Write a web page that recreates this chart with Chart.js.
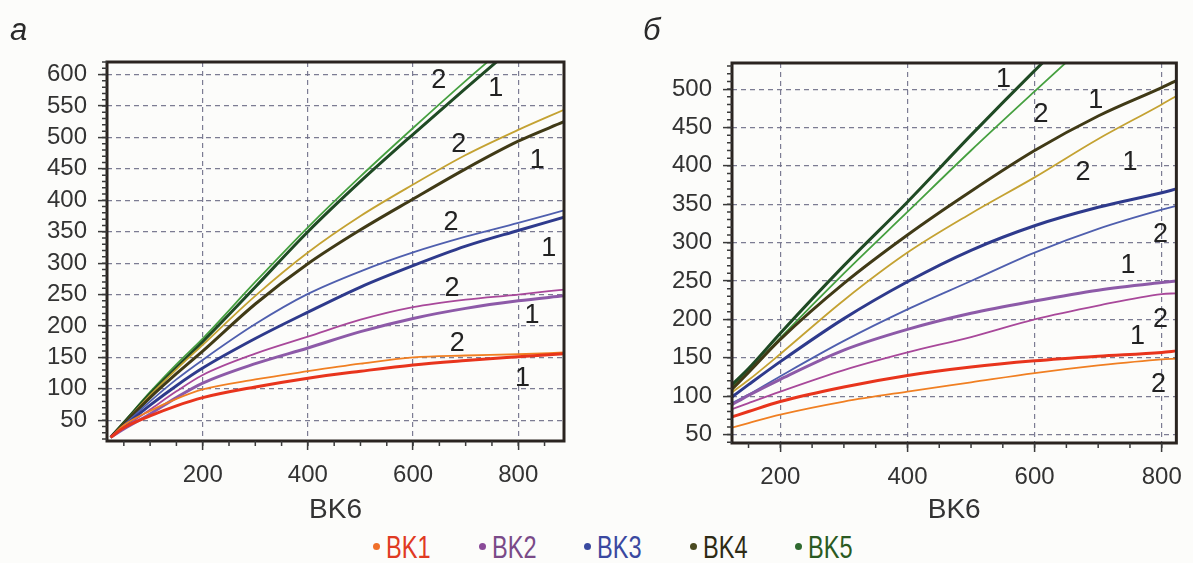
<!DOCTYPE html>
<html>
<head>
<meta charset="utf-8">
<script src="https://cdn.jsdelivr.net/npm/chart.js@4.4.1/dist/chart.umd.min.js"></script>
<style>
  body { margin: 0; background: #fcfcfa; width: 1193px; height: 563px; overflow: hidden; position: relative;
         font-family: 'Liberation Sans', Arial, sans-serif; }
  canvas { position: absolute; top: 0; }
  #chartA { left: 0; }
  #chartB { left: 600px; }
  #legend { position: absolute; top: 531px; left: 373px; display: flex; font-size: 31px; line-height: 34px; }
  #legend span { width: 105.5px; white-space: nowrap; }
  #legend b { display: inline-block; font-weight: normal; transform: scaleX(0.76); transform-origin: left center; }
  #legend i { display: inline-block; width: 7px; height: 7px; border-radius: 50%; margin-right: 6px; vertical-align: middle; position: relative; top: -3px; }
</style>
</head>
<body>
<canvas id="chartA" width="600" height="530"></canvas>
<canvas id="chartB" width="593" height="530"></canvas>
<div id="legend"></div>
<script>
// ---- данные ----
// панель а
const X_A = [25, 50, 100, 150, 200, 300, 400, 500, 600, 700, 800, 887];
const A_BK1_1 = [23, 38, 57, 73, 86, 103, 117, 128, 138, 145, 151, 156];
const A_BK1_2 = [23, 42, 65, 84, 99, 115, 128, 140, 150, 153, 155, 158];
const A_BK2_1 = [23, 36, 60, 86, 109, 140, 165, 191, 212, 228, 240, 248];
const A_BK2_2 = [23, 38, 67, 96, 122, 156, 183, 210, 230, 242, 250, 258];
const A_BK3_1 = [23, 40, 74, 105, 133, 180, 222, 262, 296, 327, 352, 373];
const A_BK3_2 = [23, 42, 80, 115, 146, 203, 251, 287, 317, 342, 364, 384];
const A_BK4_1 = [23, 44, 86, 124, 160, 235, 299, 353, 402, 450, 494, 525];
const A_BK4_2 = [23, 45, 90, 131, 170, 248, 317, 375, 425, 472, 512, 544];
const A_BK5_1 = [23, 46, 92, 134, 175, 262, 350, 430, 505, 578, 650, null];
const A_BK5_2 = [23, 47, 95, 139, 180, 270, 357, 438, 515, 590, 662, null];

// панель б
const X_B = [124, 150, 200, 300, 400, 500, 600, 700, 800, 823];
const B_BK1_1 = [73, 80, 93, 112, 127, 138, 146, 152, 157, 159];
const B_BK1_2 = [59, 65, 76, 93, 106, 118, 130, 140, 148, 149];
const B_BK2_1 = [89, 101, 122, 160, 187, 208, 224, 238, 248, 250];
const B_BK2_2 = [83, 91, 106, 134, 157, 177, 200, 218, 233, 234];
const B_BK3_1 = [99, 115, 145, 201, 249, 290, 322, 346, 365, 370];
const B_BK3_2 = [91, 102, 126, 172, 213, 250, 287, 318, 343, 348];
const B_BK4_1 = [109, 131, 174, 247, 310, 367, 420, 465, 502, 511];
const B_BK4_2 = [105, 121, 155, 225, 287, 338, 385, 435, 480, 491];
const B_BK5_1 = [115, 136, 182, 270, 353, 440, 524, 605, null, null];
const B_BK5_2 = [112, 132, 176, 260, 340, 420, 497, 573, null, null];

// подписи кривых "1" / "2" (в координатах данных)
const LBL_A_X = [808, 684, 826, 674, 858, 672, 836, 687, 757, 649];
const LBL_A_Y = [117, 172, 217, 259, 323, 364, 464, 488, 577, 590];
const LBL_B_X = [762, 795, 747, 798, 750, 798, 696, 676, 551, 610];
const LBL_B_Y = [178, 115, 270, 200, 404, 311, 485, 391, 513, 467];
const LBL_T = ['1', '2', '1', '2', '1', '2', '1', '2', '1', '2'];

const SERIES = ['BK1', 'BK2', 'BK3', 'BK4', 'BK5'];
const X_TICKS = [200, 400, 600, 800];

// ---- оформление ----
const COLOR_1 = ['#e8341c', '#8d5aa8', '#2e3a8c', '#403a16', '#1f4a24'];
const COLOR_2 = ['#f07f22', '#a8489a', '#4f5fae', '#c4a232', '#46a040'];
const LEGEND_DOT = ['#f0702a', '#8a4a98', '#3a4aa0', '#4a4a20', '#2f6a2f'];
const LEGEND_TEXT = ['#e03a22', '#7a4a88', '#3a48a0', '#2e2a14', '#2a5a22'];
const FONT = "'Liberation Sans', Arial, sans-serif";
const INK = '#333';

const framePlugin = {
    id: 'frame',
    afterDraw(chart) {
        const { ctx, chartArea: a } = chart;
        ctx.save();
        ctx.strokeStyle = '#2a2420';
        ctx.lineWidth = 3;
        ctx.strokeRect(a.left, a.top, a.right - a.left, a.bottom - a.top);
        ctx.restore();
    }
};

// мелкие засечки на осях
const minorTicks = {
    id: 'minorTicks',
    afterDraw(chart) {
        const { ctx } = chart;
        const xs = chart.scales.x, ys = chart.scales.y;
        ctx.save();
        ctx.strokeStyle = '#3a3a3a';
        ctx.lineWidth = 1.5;
        ctx.beginPath();
        for (let v = Math.ceil(ys.min / 10) * 10; v <= ys.max; v += 10) {
            const p = ys.getPixelForValue(v);
            ctx.moveTo(ys.right - 5, p); ctx.lineTo(ys.right, p);
        }
        for (let v = Math.ceil(xs.min / 50) * 50; v <= xs.max; v += 50) {
            const p = xs.getPixelForValue(v);
            ctx.moveTo(p, xs.top); ctx.lineTo(p, xs.top + 5);
        }
        ctx.stroke();
        ctx.restore();
    }
};

const curveLabels = {
    id: 'curveLabels',
    afterDatasetsDraw(chart, args, opts) {
        const { ctx } = chart;
        ctx.save();
        ctx.font = `27px ${FONT}`;
        ctx.fillStyle = '#222';
        ctx.textAlign = 'center';
        ctx.textBaseline = 'middle';
        opts.xs.forEach((x, i) => {
            ctx.fillText(opts.texts[i], chart.scales.x.getPixelForValue(x), chart.scales.y.getPixelForValue(opts.ys[i]));
        });
        ctx.restore();
    }
};

const panelLetter = {
    id: 'panelLetter',
    afterDraw(chart, args, opts) {
        const { ctx } = chart;
        ctx.save();
        ctx.font = `italic 31px ${FONT}`;
        ctx.fillStyle = '#2a2a2a';
        ctx.fillText(opts.text, opts.x, opts.y);
        ctx.restore();
    }
};

function makeDatasets(xs, lines1, lines2) {
    const sets = [];
    SERIES.forEach((name, k) => {
        [[lines1[k], COLOR_1[k], 3, '1'], [lines2[k], COLOR_2[k], 1.8, '2']].forEach(([ys, color, w, n]) => {
            sets.push({
                label: `${name} ${n}`,
                data: ys.map((y, i) => ({ x: xs[i], y })),
                borderColor: color,
                borderWidth: w,
                pointRadius: 0,
                fill: false,
                cubicInterpolationMode: 'monotone',
                spanGaps: false
            });
        });
    });
    return sets;
}

function makeChart(id, cfg) {
    const grid = { color: 'rgba(110,110,135,0.9)', lineWidth: 1.2,
                   tickLength: 9, tickColor: '#3a3a3a', tickWidth: 1.5, tickBorderDash: [] };
    const border = { display: false, dash: [5, 4] };
    return new Chart(document.getElementById(id), {
        type: 'line',
        data: { datasets: makeDatasets(cfg.xs, cfg.lines1, cfg.lines2) },
        options: {
            responsive: false,
            animation: false,
            layout: { padding: cfg.padding },
            plugins: {
                legend: { display: false },
                tooltip: { enabled: false },
                curveLabels: { xs: cfg.lblX, ys: cfg.lblY, texts: LBL_T },
                panelLetter: cfg.letter
            },
            scales: {
                x: {
                    type: 'linear', min: cfg.xMin, max: cfg.xMax,
                    afterBuildTicks: ax => { ax.ticks = X_TICKS.map(v => ({ value: v })); },
                    afterFit: ax => { ax.height = cfg.xHeight; },
                    ticks: { color: INK, font: { family: FONT, size: 24 }, padding: 11, maxRotation: 0 },
                    grid, border,
                    title: { display: true, text: 'BK6', color: INK, font: { family: FONT, size: 28 }, padding: { top: 0, bottom: 3 } }
                },
                y: {
                    type: 'linear', min: cfg.yMin, max: cfg.yMax,
                    afterBuildTicks: ax => {
                        const t = [];
                        for (let v = Math.ceil(ax.min / 50) * 50; v <= ax.max; v += 50) t.push({ value: v });
                        ax.ticks = t;
                    },
                    afterFit: ax => { ax.width = cfg.yWidth; },
                    ticks: { color: INK, font: { family: FONT, size: 24 }, padding: 11 },
                    grid, border
                }
            }
        },
        plugins: [framePlugin, minorTicks, curveLabels, panelLetter]
    });
}

makeChart('chartA', {
    xs: X_A,
    lines1: [A_BK1_1, A_BK2_1, A_BK3_1, A_BK4_1, A_BK5_1],
    lines2: [A_BK1_2, A_BK2_2, A_BK3_2, A_BK4_2, A_BK5_2],
    lblX: LBL_A_X, lblY: LBL_A_Y,
    xMin: 18, xMax: 887, yMin: 17, yMax: 620,
    padding: { top: 62, right: 36, left: 0, bottom: 0 },
    yWidth: 107, xHeight: 89,
    letter: { text: 'а', x: 10, y: 40 }
});

makeChart('chartB', {
    xs: X_B,
    lines1: [B_BK1_1, B_BK2_1, B_BK3_1, B_BK4_1, B_BK5_1],
    lines2: [B_BK1_2, B_BK2_2, B_BK3_2, B_BK4_2, B_BK5_2],
    lblX: LBL_B_X, lblY: LBL_B_Y,
    xMin: 124, xMax: 823, yMin: 39, yMax: 534,
    padding: { top: 63, right: 7, left: 0, bottom: 0 },
    yWidth: 132, xHeight: 87,
    letter: { text: 'б', x: 43, y: 40 }
});

// легенда под обеими панелями
const legend = document.getElementById('legend');
SERIES.forEach((name, k) => {
    const s = document.createElement('span');
    s.style.color = LEGEND_TEXT[k];
    s.innerHTML = `<i style="background:${LEGEND_DOT[k]}"></i><b>${name}</b>`;
    legend.appendChild(s);
});
</script>
</body>
</html>
